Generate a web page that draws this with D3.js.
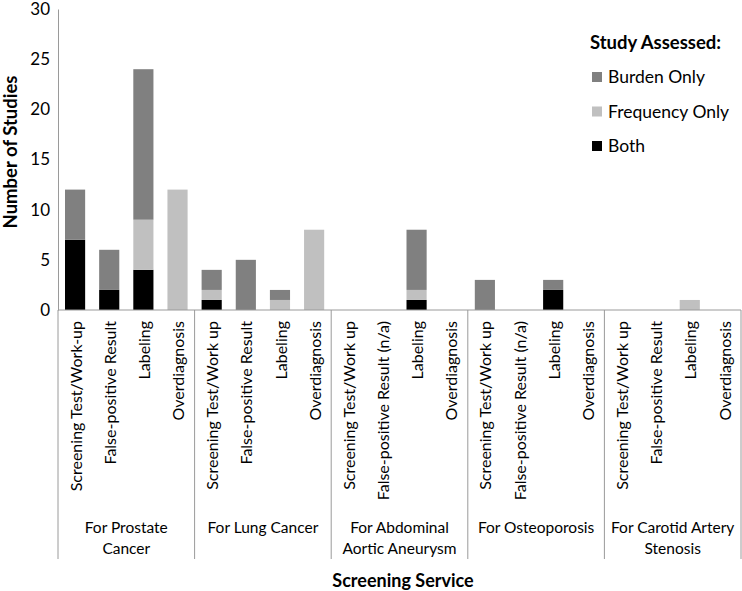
<!DOCTYPE html>
<html><head><meta charset="utf-8">
<script src="https://cdn.jsdelivr.net/npm/d3@7"></script>
<style>body{margin:0;background:#fff}svg{display:block}text{font-family:Lato, "Open Sans", sans-serif;fill:#000}</style>
</head><body><svg id="c" width="742" height="591"></svg>
<script>
const groups = ["For Prostate\nCancer", "For Lung Cancer", "For Abdominal\nAortic Aneurysm", "For Osteoporosis", "For Carotid Artery\nStenosis"];
const categories = [
  "Screening Test/Work-up", "False-positive Result", "Labeling", "Overdiagnosis",
  "Screening Test/Work up", "False-positive Result", "Labeling", "Overdiagnosis",
  "Screening Test/Work up", "False-positive Result (n/a)", "Labeling", "Overdiagnosis",
  "Screening Test/Work up", "False-positive Result (n/a)", "Labeling", "Overdiagnosis",
  "Screening Test/Work up", "False-positive Result", "Labeling", "Overdiagnosis"];
const both      = [7,2,4,0, 1,0,0,0, 0,0,1,0, 0,0,2,0, 0,0,0,0];
const frequency = [0,0,5,12, 1,0,1,8, 0,0,1,0, 0,0,0,0, 0,0,1,0];
const burden    = [5,4,15,0, 2,5,1,0, 0,0,6,0, 3,0,1,0, 0,0,0,0];
const seriesNames = ["Both", "Frequency Only", "Burden Only"];
const legendOrder = ["Burden Only", "Frequency Only", "Both"];
const yTicks = [0,5,10,15,20,25,30];

const colors = {"Both":"#000000","Frequency Only":"#c0c0c0","Burden Only":"#808080"};
const svg = d3.select("#c");
const mLeft = 58, mRight = 741, mTop = 9, mBottom = 310;
const ids = categories.map((c,i)=>i);
const x = d3.scaleBand().domain(ids).range([mLeft,mRight]).paddingInner(0.41).paddingOuter(0.205);
const y = d3.scaleLinear().domain([0,30]).range([mBottom, mTop]);

const rows = ids.map(i=>({i, "Both":both[i], "Frequency Only":frequency[i], "Burden Only":burden[i]}));
const stack = d3.stack().keys(seriesNames)(rows);

svg.append("g").selectAll("g").data(stack).join("g")
  .attr("fill", d=>colors[d.key])
  .selectAll("rect").data(d=>d.filter(p=>p[1]-p[0]>0)).join("rect")
  .attr("x", d=>x(d.data.i)).attr("width", x.bandwidth())
  .attr("y", d=>y(d[1])).attr("height", d=>y(d[0])-y(d[1]));

// y axis
const ya = svg.append("g").attr("transform",`translate(${mLeft},0)`)
  .call(d3.axisLeft(y).tickValues(yTicks).tickSize(0).tickPadding(8));
ya.select(".domain").attr("stroke","#9a9a9a");
ya.selectAll("text").style("font-size","17px").style("font-family","Lato, sans-serif");

// x axis line
svg.append("line").attr("x1",mLeft).attr("x2",mRight).attr("y1",mBottom).attr("y2",mBottom).attr("stroke","#9a9a9a");
// group dividers
const gw = (mRight-mLeft)/groups.length;
d3.range(groups.length+1).forEach(k=>{
  svg.append("line").attr("x1",mLeft+k*gw).attr("x2",mLeft+k*gw).attr("y1",mBottom).attr("y2",559).attr("stroke","#9a9a9a");
});
// category labels
svg.append("g").selectAll("text").data(ids).join("text")
  .attr("transform", i=>`translate(${x(i)+x.bandwidth()/2+1},321) rotate(-90)`)
  .attr("text-anchor","end").attr("dy","0.35em")
  .style("font-size","16px").text(i=>categories[i]);
// group labels
groups.forEach((g,k)=>{
  const lines = g.split("\n");
  const t = svg.append("text").attr("text-anchor","middle").style("font-size","15.5px");
  lines.forEach((l,j)=>t.append("tspan").attr("x", mLeft+k*gw+gw/2).attr("y", 533+j*20.5).text(l));
});
// axis titles
svg.append("text").attr("transform","translate(17,152) rotate(-90)").attr("text-anchor","middle")
  .style("font-size","18.5px").style("font-weight","bold").text("Number of Studies");
svg.append("text").attr("x",403).attr("y",587).attr("text-anchor","middle")
  .style("font-size","18px").style("font-weight","bold").text("Screening Service");
// legend
svg.append("text").attr("x",590).attr("y",49).style("font-size","18.5px").style("font-weight","bold").text("Study Assessed:");
legendOrder.forEach((k,j)=>{
  const cy = 77 + j*34.5;
  svg.append("rect").attr("x",592).attr("y",cy-5).attr("width",10).attr("height",10).attr("fill",colors[k]);
  svg.append("text").attr("x",608).attr("y",cy).attr("dy","0.35em").style("font-size","17.5px").text(k);
});
</script></body></html>
